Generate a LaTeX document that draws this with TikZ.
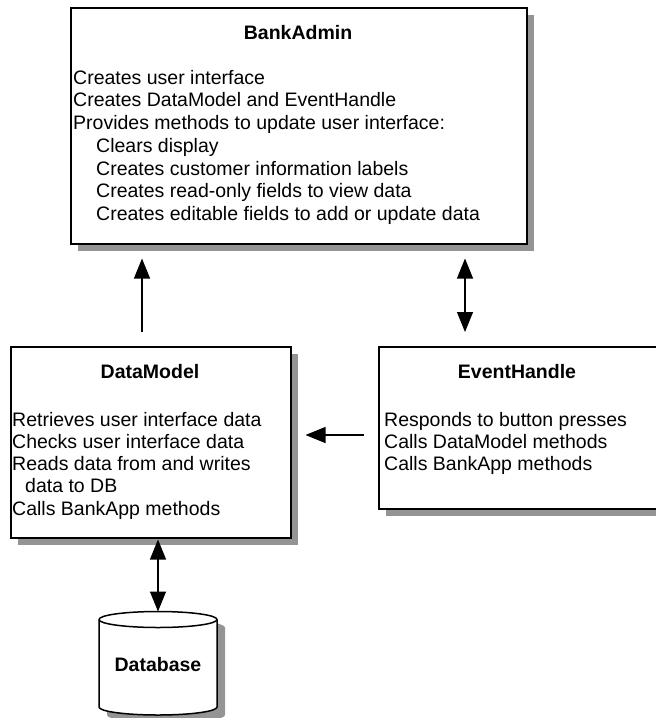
\documentclass[tikz,border=0pt]{standalone}
\usepackage{fontspec}
\setmainfont{Liberation Sans}
\usetikzlibrary{arrows.meta, positioning}

\tikzset{
  box/.style={draw, line width=1.5pt, fill=white, inner sep=0pt, anchor=north west},
  shadowfill/.style={fill=black!42},
  title/.style={font=\fontsize{19.5}{23}\selectfont\bfseries, anchor=base, inner sep=0pt},
  item/.style={font=\fontsize{19.5}{23}\selectfont, anchor=base west, inner sep=0pt},
  link/.style={line width=1.2pt, -{Triangle[length=20pt, width=16pt]}},
  twolink/.style={line width=1.2pt, {Triangle[length=20pt, width=16pt]}-{Triangle[length=20pt, width=16pt]}}
}

\begin{document}
\begin{tikzpicture}[x=1pt, y=-1pt]

  \useasboundingbox (0,0) rectangle (656,718);

  % Shadows
  \fill[shadowfill] (78,15) rectangle (534,251);
  \fill[shadowfill] (18,354) rectangle (298,545);
  \fill[shadowfill] (386,354) rectangle (665,516);

  % BankAdmin
  \node[box, minimum width=456pt, minimum height=236pt] (bankadmin) at (70,7) {};
  \node[title] (bankadmin-title) at (298,39) {BankAdmin};
  \foreach \i/\dx/\txt in {
    0/0/Creates user interface,
    1/0/Creates DataModel and EventHandle,
    2/0/Provides methods to update user interface:,
    3/23/Clears display,
    4/23/Creates customer information labels,
    5/23/Creates read-only fields to view data,
    6/23/Creates editable fields to add or update data
  }{
    \node[item] (bankadmin-\i) at ({73+\dx},{84+22.75*\i}) {\txt};
  }

  % DataModel
  \node[box, minimum width=280pt, minimum height=191pt] (datamodel) at (10,346) {};
  \node[title] (datamodel-title) at (150,378) {DataModel};
  \foreach \i/\dx/\txt in {
    0/0/Retrieves user interface data,
    1/0/Checks user interface data,
    2/0/Reads data from and writes,
    3/13/data to DB,
    4/0/Calls BankApp methods
  }{
    \node[item] (datamodel-\i) at ({12+\dx},{426+22.3*\i}) {\txt};
  }

  % EventHandle
  \node[box, minimum width=279pt, minimum height=162pt] (eventhandle) at (378,346) {};
  \node[title] (eventhandle-title) at (517,378) {EventHandle};
  \foreach \i/\txt in {
    0/Responds to button presses,
    1/Calls DataModel methods,
    2/Calls BankApp methods
  }{
    \node[item] (eventhandle-\i) at (384,{426+22.3*\i}) {\txt};
  }

  % Database
  \begin{scope}[shift={(8,8)}]
    \fill[shadowfill] (99,619.5) -- (99,707) arc[start angle=180, end angle=360, x radius=59pt, y radius=8pt]
      -- (217,619.5) arc[start angle=0, end angle=180, x radius=59pt, y radius=8pt] -- cycle;
  \end{scope}
  \draw[line width=1.5pt, fill=white] (99,619.5) -- (99,707)
    arc[start angle=180, end angle=360, x radius=59pt, y radius=8pt]
    -- (217,619.5) arc[start angle=0, end angle=180, x radius=59pt, y radius=8pt] -- cycle;
  \draw[line width=1.5pt] (99,619.5) arc[start angle=180, end angle=360, x radius=59pt, y radius=8pt];
  \node[title, anchor=center] (database) at (158,665) {Database};
  \coordinate (dbtop) at (158,611.5);

  % Connectors
  \coordinate (upx) at (142,0);
  \coordinate (dblx) at (465,0);
  \coordinate (midy) at (0,435);
  \draw[link, shorten <=14pt, shorten >=14pt] (datamodel.north -| upx) -- (bankadmin.south -| upx);
  \draw[twolink, shorten <=14pt, shorten >=14pt] (bankadmin.south -| dblx) -- (eventhandle.north -| dblx);
  \draw[link, shorten <=14pt, shorten >=14pt] (eventhandle.west |- midy) -- (datamodel.east |- midy);
  \draw[twolink, shorten <=1pt] (datamodel.south -| dbtop) -- (dbtop);

\end{tikzpicture}
\end{document}
